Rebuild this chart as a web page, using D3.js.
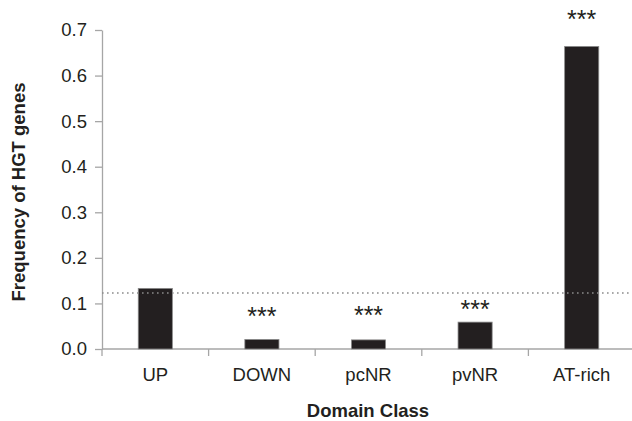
<!DOCTYPE html>
<html lang="en">
<head>
    <meta charset="UTF-8">
    <script src="https://d3js.org/d3.v7.min.js"></script>
    <title>HGT frequency</title>
    <style>
        body { margin: 0; background: #fff; }
        svg { display: block; font-family: "Liberation Sans", Arial, sans-serif; }
    </style>
</head>
<body>
    <div id="container"></div>
    <script>
        // data
        var categories = ["UP", "DOWN", "pcNR", "pvNR", "AT-rich"];
        var values = [0.133, 0.021, 0.020, 0.059, 0.664];
        var stars = ["", "***", "***", "***", "***"];
        var starLevels = [0, 0.052, 0.054, 0.069, 0.705];   // baseline of the *** labels
        var expected = 0.123;                                // dotted reference line
        var yTicks = [0, 0.1, 0.2, 0.3, 0.4, 0.5, 0.6, 0.7];

        var width = 632, height = 421;
        var margin = {left: 102, top: 30, right: -3, bottom: 72};
        var chart_width = width - margin.left - margin.right;
        var chart_height = height - margin.top - margin.bottom;
        var axisColor = "#a6a6a6", ink = "#231f20";

        var svg = d3.select("#container").append("svg")
            .attr("width", width).attr("height", height);
        var g = svg.append("g")
            .attr("transform", `translate(${margin.left},${margin.top})`);

        var x = d3.scaleBand()
            .domain(categories)
            .range([0, chart_width])
            .paddingInner(0.68)
            .paddingOuter(0.34);

        var y = d3.scaleLinear()
            .domain([0, 0.7])
            .range([chart_height, 0]);

        // y axis
        var yAxis = g.append("g")
            .call(d3.axisLeft(y).tickValues(yTicks).tickFormat(d3.format(".1f")).tickSize(7).tickSizeOuter(0));
        yAxis.select(".domain").attr("stroke", axisColor).attr("stroke-width", 1.3);
        yAxis.selectAll(".tick line").attr("stroke", axisColor).attr("stroke-width", 1.3);
        yAxis.selectAll(".tick text")
            .attr("x", -15)
            .attr("fill", ink)
            .style("font-family", "Liberation Sans, Arial, sans-serif")
            .style("font-size", "18.5px");

        // x axis
        var xAxis = g.append("g").attr("transform", `translate(0,${chart_height})`);
        xAxis.append("line")
            .attr("x1", 0).attr("x2", chart_width)
            .attr("stroke", axisColor).attr("stroke-width", 1.3);
        var step = x.step();
        xAxis.selectAll(".bound").data(categories)
            .enter().append("line")
            .attr("class", "bound")
            .attr("x1", (d, i) => i * step).attr("x2", (d, i) => i * step)
            .attr("y1", 0).attr("y2", 7)
            .attr("stroke", axisColor).attr("stroke-width", 1.3);
        xAxis.selectAll(".lbl").data(categories)
            .enter().append("text")
            .attr("class", "lbl")
            .attr("x", d => x(d) + x.bandwidth() / 2)
            .attr("y", 32)
            .attr("text-anchor", "middle")
            .attr("fill", ink)
            .style("font-size", "18.5px")
            .text(d => d);

        // bars
        g.selectAll(".bar").data(values)
            .enter().append("rect")
            .attr("class", "bar")
            .attr("x", (d, i) => x(categories[i]))
            .attr("width", x.bandwidth())
            .attr("y", d => y(d))
            .attr("height", d => chart_height - y(d))
            .attr("fill", ink)
            .attr("stroke", "#8a8a8a")
            .attr("stroke-width", 0.8);

        // reference line
        g.append("line")
            .attr("x1", 0).attr("x2", chart_width)
            .attr("y1", y(expected)).attr("y2", y(expected))
            .attr("stroke", "#8c8c8c")
            .attr("stroke-width", 1.6)
            .attr("stroke-dasharray", "1.6,3.4");

        // significance stars
        g.selectAll(".star").data(stars)
            .enter().append("text")
            .attr("class", "star")
            .attr("x", (d, i) => x(categories[i]) + x.bandwidth() / 2)
            .attr("y", (d, i) => y(starLevels[i]))
            .attr("text-anchor", "middle")
            .attr("fill", ink)
            .style("font-size", "25px")
            .text(d => d);

        // axis titles
        svg.append("text")
            .attr("transform", "translate(25,192) rotate(-90)")
            .attr("text-anchor", "middle")
            .attr("fill", ink)
            .style("font-size", "18.5px")
            .style("font-weight", "bold")
            .text("Frequency of HGT genes");

        svg.append("text")
            .attr("x", 368).attr("y", 417)
            .attr("text-anchor", "middle")
            .attr("fill", ink)
            .style("font-size", "18.5px")
            .style("font-weight", "bold")
            .text("Domain Class");
    </script>
</body>
</html>
